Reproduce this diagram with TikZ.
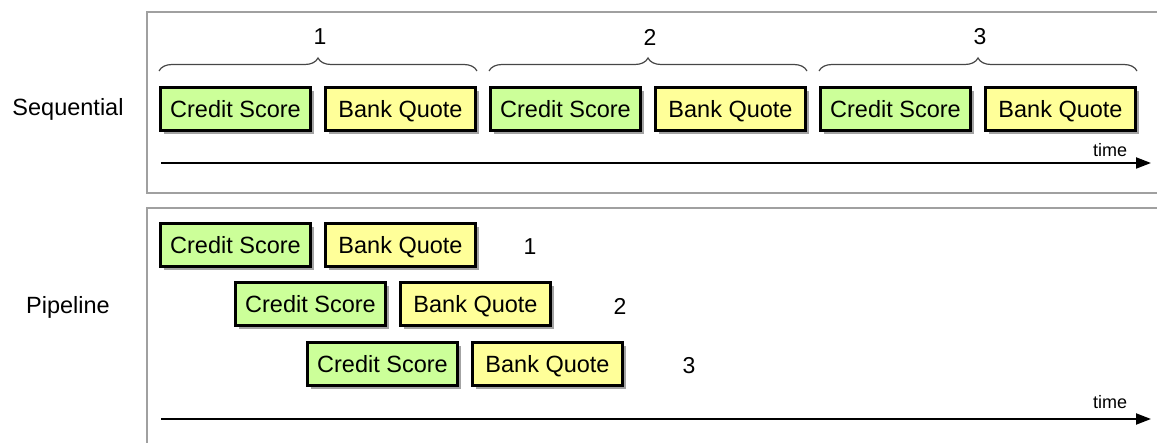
\documentclass[tikz,border=0pt]{standalone}
\usepackage{fontspec}
\setmainfont{Liberation Sans}
\usetikzlibrary{shadows,decorations.pathreplacing,arrows.meta}

\definecolor{scoregreen}{RGB}{204,255,153}
\definecolor{quoteyellow}{RGB}{255,255,153}
\definecolor{panelgray}{RGB}{160,160,160}
\definecolor{bracegray}{RGB}{70,70,70}

\tikzset{
  stage/.style={draw=black, line width=3pt, minimum width=150pt, minimum height=43pt,
    inner sep=0pt, font=\fontsize{23.5}{27}\selectfont, text height=20pt, text depth=3pt,
    drop shadow={shadow xshift=3.5pt, shadow yshift=-3.5pt, fill=black!60, opacity=.6}},
  scorebox/.style={stage, fill=scoregreen},
  quotebox/.style={stage, fill=quoteyellow},
  panel/.style={draw=panelgray, line width=1.5pt},
  timeline/.style={line width=2pt, -{Triangle[length=15pt,width=11pt]}},
  groupbrace/.style={draw=bracegray, line width=1.2pt,
    decorate, decoration={brace, amplitude=13pt}},
  numlbl/.style={font=\fontsize{23}{27}\selectfont},
  sidelbl/.style={font=\fontsize{23.5}{27}\selectfont},
  timelbl/.style={font=\fontsize{18}{22}\selectfont},
}

\begin{document}
\begin{tikzpicture}[x=1pt, y=-1pt]

  % fix the canvas to the reference size
  \useasboundingbox (0,0) rectangle (1157,443);

  %% ---- panels ----
  \draw[panel] (1160,12) -- (147,12) -- (147,193) -- (1160,193);
  \draw[panel] (1160,208) -- (147,208) -- (147,446);

  \node[sidelbl] (seqlbl)  at (68,109) {Sequential};
  \node[sidelbl] (pipelbl) at (68,307) {Pipeline};

  %% ---- sequential: three full rounds one after another ----
  \foreach \k in {1,2,3} {
    \node[scorebox] (seqcs\k) at ({235.5+330*(\k-1)},109.5) {Credit Score};
    \node[quotebox] (seqbq\k) at ({400.5+330*(\k-1)},109.5) {Bank Quote};
    \draw[groupbrace] ([yshift=15.5pt]seqcs\k.north west) -- ([yshift=15.5pt]seqbq\k.north east);
    \node[numlbl] (seqnum\k) at ({320+330*(\k-1)},37) {\k};
  }

  \coordinate (seqstart) at (161,163);
  \coordinate (seqend)   at (1151,163);
  \draw[timeline] (seqstart) -- (seqend);
  \node[timelbl] (seqtime) at (1110,150) {time};

  %% ---- pipeline: rounds overlap, each row shifted right ----
  \foreach \k/\dx/\yy/\nx in {1/0/245/530, 2/75/304.5/620, 3/147/364/689} {
    \node[scorebox] (pipecs\k) at ({235.5+\dx},\yy) {Credit Score};
    \node[quotebox] (pipebq\k) at ({400.5+\dx},\yy) {Bank Quote};
    \node[numlbl] (pipenum\k) at (\nx,{\yy+2}) {\k};
  }

  \coordinate (pipestart) at (161,419);
  \coordinate (pipeend)   at (1151,419);
  \draw[timeline] (pipestart) -- (pipeend);
  \node[timelbl] (pipetime) at (1110,402) {time};

\end{tikzpicture}
\end{document}
